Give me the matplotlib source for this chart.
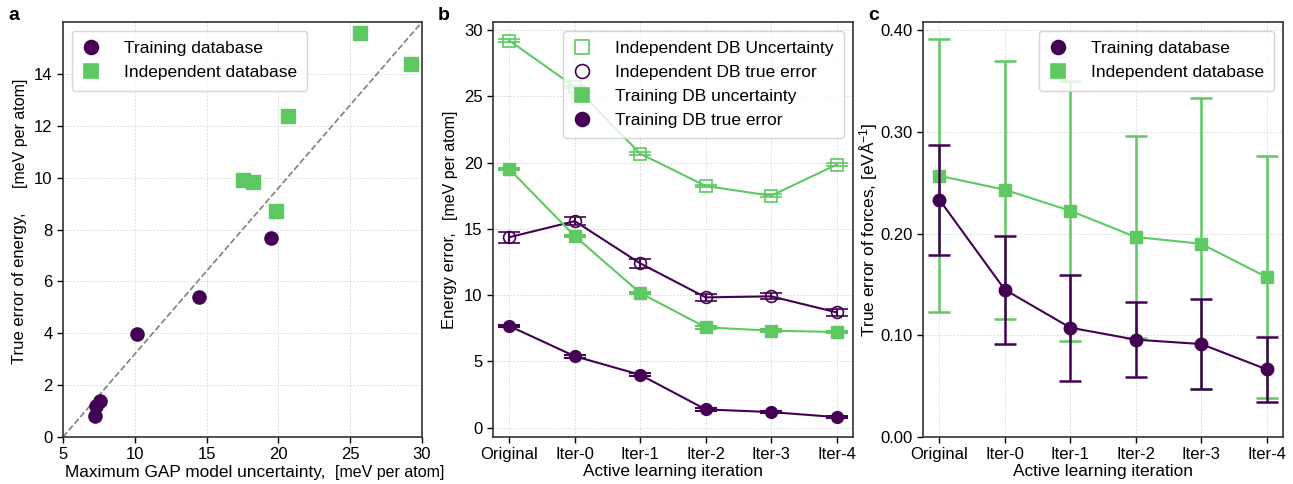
import numpy as np
import matplotlib
matplotlib.use('Agg')
import matplotlib.pyplot as plt
from matplotlib.lines import Line2D

plt.rcParams['font.family'] = ['Liberation Sans', 'DejaVu Sans']
plt.rcParams['mathtext.fontset'] = 'custom'
plt.rcParams['mathtext.rm'] = 'Liberation Sans'

PURPLE = '#440154'
GREEN = '#5ec962'

iterations = ['Original', 'Iter-0', 'Iter-1', 'Iter-2', 'Iter-3', 'Iter-4']

# Energy (meV per atom)
train_unc = [19.5, 14.45, 10.16, 7.57, 7.32, 7.22]
train_unc_err = [0.1, 0.1, 0.1, 0.1, 0.1, 0.1]
train_err = [7.67, 5.39, 3.99, 1.38, 1.18, 0.80]
train_err_err = [0.1, 0.1, 0.1, 0.1, 0.1, 0.1]
indep_unc = [29.2, 25.7, 20.67, 18.23, 17.5, 19.84]
indep_unc_err = [0.1, 0.1, 0.1, 0.1, 0.1, 0.1]
indep_err = [14.37, 15.58, 12.39, 9.83, 9.91, 8.70]
indep_err_err = [0.41, 0.31, 0.31, 0.24, 0.23, 0.24]

# Forces (eV/A)
train_force = [0.2333, 0.1448, 0.1075, 0.0957, 0.0914, 0.0665]
train_force_std = [0.054, 0.053, 0.052, 0.037, 0.044, 0.032]
indep_force = [0.2568, 0.2431, 0.2224, 0.1966, 0.1900, 0.1572]
indep_force_std = [0.134, 0.127, 0.128, 0.099, 0.143, 0.119]

fig = plt.figure(figsize=(12.93, 4.84), dpi=100)
W, H = 1293, 484
def box(l, r, t=22, b=437):
    return [l / W, 1 - b / H, (r - l) / W, (b - t) / H]

ax_a = fig.add_axes(box(63, 422))
ax_b = fig.add_axes(box(493, 853))
ax_c = fig.add_axes(box(923, 1283))

FS = 12
LFS = 12.5
LABFS = 12.4
leg_kw = dict(fontsize=LFS, handlelength=1.0, handletextpad=1.4, borderpad=0.6)

for ax in (ax_a, ax_b, ax_c):
    ax.grid(True, linestyle=(0, (2, 2)), linewidth=0.6, color='#d4d4d4')
    ax.set_axisbelow(True)
    for s in ax.spines.values():
        s.set_linewidth(1.2)
        s.set_color('#333333')
    ax.tick_params(labelsize=FS, width=1.0, length=4)


def marker_handle(marker, color, filled=True, size=10):
    return Line2D([], [], linestyle='none', marker=marker, markersize=size,
                  color=color, markerfacecolor=color if filled else 'none',
                  markeredgewidth=1.2)


# --- panel a: true error vs uncertainty ---
ax_a.plot([5, 30], [0, 16], linestyle='--', color='grey', linewidth=1.2, zorder=1)
ax_a.scatter(train_unc, train_err, s=90, marker='o', color=PURPLE, zorder=3)
ax_a.scatter(indep_unc, indep_err, s=90, marker='s', color=GREEN, zorder=3)
ax_a.set_xlim(5, 30)
ax_a.set_ylim(0, 16)
ax_a.set_yticks(np.arange(0, 15, 2))
ax_a.legend([marker_handle('o', PURPLE), marker_handle('s', GREEN)],
            ['Training database', 'Independent database'], loc='upper left', **leg_kw)
ax_a.text(0.005, -0.096, 'Maximum GAP model uncertainty,', transform=ax_a.transAxes,
          fontsize=LABFS, ha='left', va='baseline')
ax_a.text(0.758, -0.096, '[meV per atom]', transform=ax_a.transAxes,
          fontsize=11.5, ha='left', va='baseline')
ax_a.text(-0.122, 0.54, 'True error of energy,', transform=ax_a.transAxes,
          fontsize=12, rotation=90, ha='center', va='top')
ax_a.text(-0.118, 0.60, '[meV per atom]', transform=ax_a.transAxes,
          fontsize=11.5, rotation=90, ha='center', va='bottom')

# --- panel b: energy errors per iteration ---
x = np.arange(len(iterations))
eb = dict(capsize=8, capthick=1.5, elinewidth=1.5, linewidth=1.5, markersize=8.5)
ax_b.errorbar(x, indep_unc, yerr=indep_unc_err, marker='s', color=GREEN,
              markerfacecolor='none', markeredgecolor=GREEN, markeredgewidth=1.2, **eb)
ax_b.errorbar(x, indep_err, yerr=indep_err_err, marker='o', color=PURPLE,
              markerfacecolor='none', markeredgecolor=PURPLE, markeredgewidth=1.2, **eb)
ax_b.errorbar(x, train_unc, yerr=train_unc_err, marker='s', color=GREEN, **eb)
ax_b.errorbar(x, train_err, yerr=train_err_err, marker='o', color=PURPLE, **eb)
ax_b.set_xlim(-0.25, 5.25)
ax_b.set_ylim(-0.7, 30.6)
ax_b.set_xticks(x)
ax_b.set_xticklabels(iterations)
ax_b.set_xlabel('Active learning iteration', fontsize=LABFS, labelpad=1)
ax_b.legend([marker_handle('s', GREEN, False), marker_handle('o', PURPLE, False),
             marker_handle('s', GREEN), marker_handle('o', PURPLE)],
            ['Independent DB Uncertainty', 'Independent DB true error',
             'Training DB uncertainty', 'Training DB true error'],
            loc='upper right', **leg_kw)
ax_b.text(-0.122, 0.494, 'Energy error,', transform=ax_b.transAxes,
          fontsize=12, rotation=90, ha='center', va='top')
ax_b.text(-0.118, 0.523, '[meV per atom]', transform=ax_b.transAxes,
          fontsize=11.5, rotation=90, ha='center', va='bottom')

# --- panel c: force errors per iteration ---
ebc = dict(capsize=8, capthick=1.8, elinewidth=1.8, linewidth=1.5, markersize=9)
ax_c.errorbar(x, train_force, yerr=train_force_std, marker='o', color=PURPLE,
              zorder=3, **ebc)
ax_c.errorbar(x, indep_force, yerr=indep_force_std, marker='s', color=GREEN,
              zorder=2, **ebc)
ax_c.set_xlim(-0.25, 5.25)
ax_c.set_ylim(0, 0.408)
ax_c.set_yticks([0.0, 0.1, 0.2, 0.3, 0.4])
ax_c.yaxis.set_major_formatter(plt.FuncFormatter(lambda v, _: f'{v:.2f}'))
ax_c.set_xticks(x)
ax_c.set_xticklabels(iterations)
ax_c.set_xlabel('Active learning iteration', fontsize=LABFS, labelpad=1)
ax_c.set_ylabel(r'True error of forces, [eV$\mathregular{\AA^{-1}}$]', fontsize=LABFS,
                labelpad=0)
ax_c.legend([marker_handle('o', PURPLE), marker_handle('s', GREEN)],
            ['Training database', 'Independent database'], loc='upper right', **leg_kw)

# panel letters
for lx, letter in ((8, 'a'), (438, 'b'), (868, 'c')):
    fig.text(lx / W, 1 - 15 / H, letter, fontsize=14, fontweight='bold',
             ha='left', va='center')

fig.savefig('out.png', dpi=100)
